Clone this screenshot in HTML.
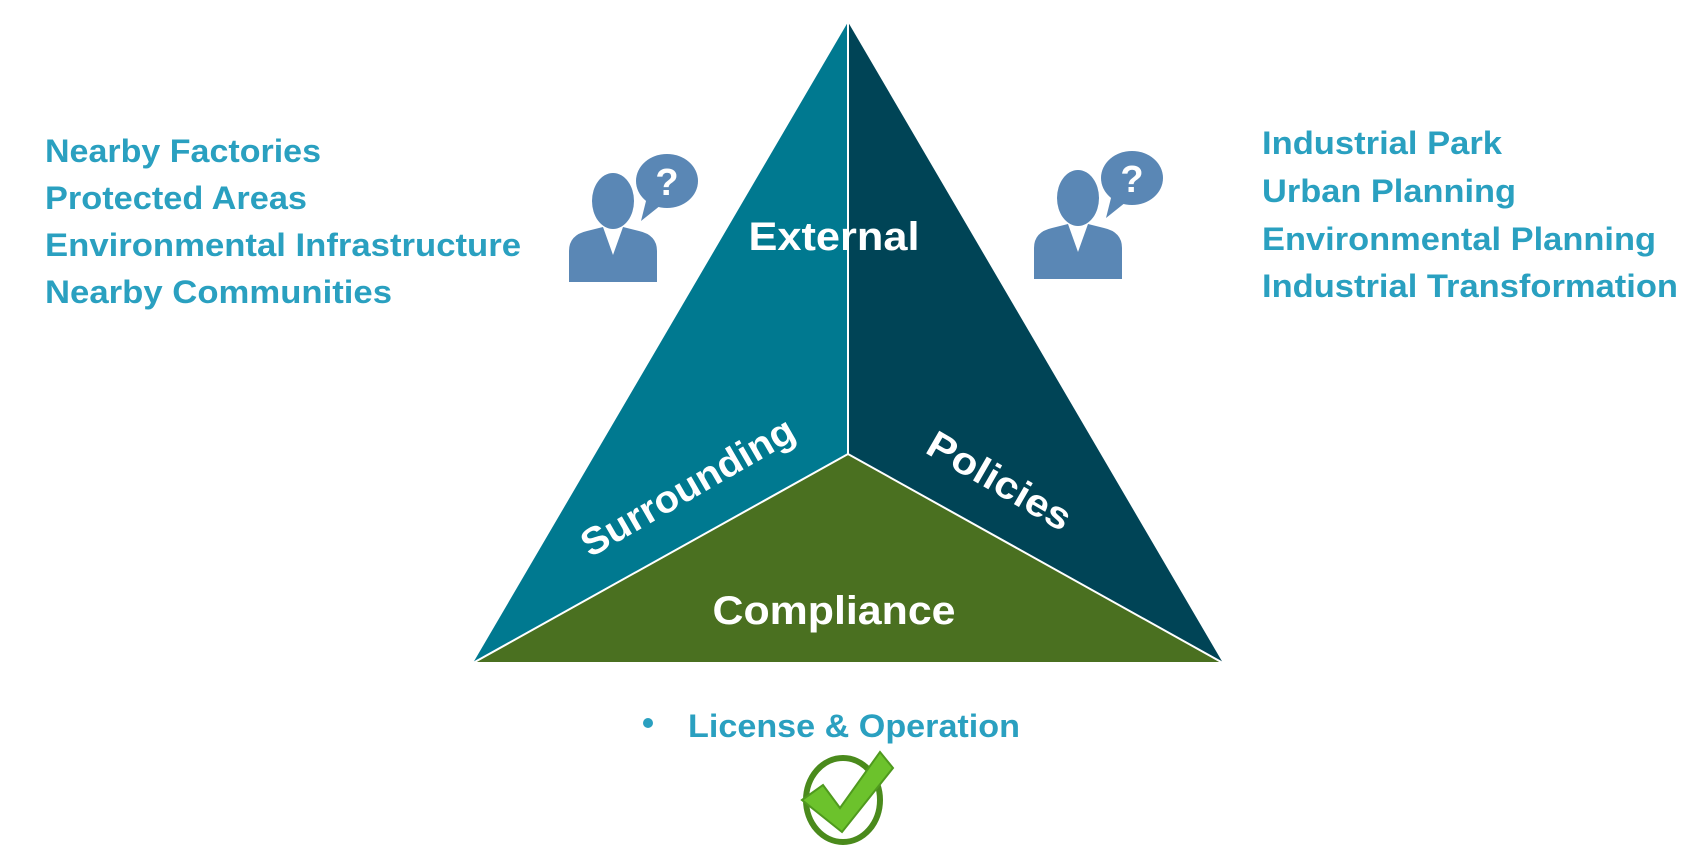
<!DOCTYPE html>
<html><head><meta charset="utf-8"><style>
html,body{margin:0;padding:0;background:#fff;}
svg{display:block;}
text{font-family:"Liberation Sans",sans-serif;font-weight:bold;}
</style></head><body>
<svg width="1706" height="854" viewBox="0 0 1706 854" xmlns="http://www.w3.org/2000/svg">
<defs>
<g id="person">
  <path d="M0,129 L0,98 Q0,82 18,78 L34,74 L44,102 L54,74 L70,78 Q88,82 88,98 L88,129 Z" fill="#5a87b5"/>
  <ellipse cx="44" cy="48" rx="21" ry="28" fill="#5a87b5"/>
  <ellipse cx="98" cy="28" rx="31" ry="27" fill="#5a87b5"/>
  <path d="M78,44 L72,68 L92,52 Z" fill="#5a87b5"/>
  <text x="98" y="42" font-size="38" fill="#fff" text-anchor="middle">?</text>
</g>
</defs>
<polygon points="848,22 473,663 848,454" fill="#007990"/>
<polygon points="848,22 1223,663 848,454" fill="#004456"/>
<polygon points="473,663 848,454 1223,663" fill="#4a7020"/>
<polyline points="848,22 848,454" stroke="#fff" stroke-width="2" fill="none"/>
<polyline points="473,663 848,454 1223,663" stroke="#fff" stroke-width="2" fill="none"/>
<line x1="473" y1="663" x2="1223" y2="663" stroke="#fff" stroke-width="2"/>

<text x="834" y="250" font-size="40" fill="#fff" text-anchor="middle" textLength="171" lengthAdjust="spacingAndGlyphs">External</text>
<text x="834" y="624" font-size="40" fill="#fff" text-anchor="middle" textLength="243" lengthAdjust="spacingAndGlyphs">Compliance</text>
<text transform="translate(694,498) rotate(-30)" font-size="38" fill="#fff" text-anchor="middle" textLength="240" lengthAdjust="spacingAndGlyphs">Surrounding</text>
<text transform="translate(993,492) rotate(30)" font-size="38" fill="#fff" text-anchor="middle" textLength="160" lengthAdjust="spacingAndGlyphs">Policies</text>

<g font-size="32" fill="#2aa0c0">
<text x="45" y="162" textLength="276" lengthAdjust="spacingAndGlyphs">Nearby Factories</text>
<text x="45" y="209" textLength="262" lengthAdjust="spacingAndGlyphs">Protected Areas</text>
<text x="45" y="256" textLength="476" lengthAdjust="spacingAndGlyphs">Environmental Infrastructure</text>
<text x="45" y="303" textLength="347" lengthAdjust="spacingAndGlyphs">Nearby Communities</text>
<text x="1262" y="154" textLength="240" lengthAdjust="spacingAndGlyphs">Industrial Park</text>
<text x="1262" y="202" textLength="254" lengthAdjust="spacingAndGlyphs">Urban Planning</text>
<text x="1262" y="250" textLength="394" lengthAdjust="spacingAndGlyphs">Environmental Planning</text>
<text x="1262" y="297" textLength="416" lengthAdjust="spacingAndGlyphs">Industrial Transformation</text>
<text x="688" y="737" textLength="332" lengthAdjust="spacingAndGlyphs">License &amp; Operation</text>
</g>
<circle cx="648" cy="723" r="5" fill="#2aa0c0"/>

<use href="#person" x="569" y="153"/>
<use href="#person" x="1034" y="150"/>

<ellipse cx="843" cy="800" rx="37" ry="42" fill="#fff" stroke="#4a8a1c" stroke-width="6"/>
<path d="M802,800 L823,785 L840,808 L880,752 L893,768 L842,832 Z" fill="#6cc22c" stroke="#4f9a1e" stroke-width="2"/>
</svg>
</body></html>
